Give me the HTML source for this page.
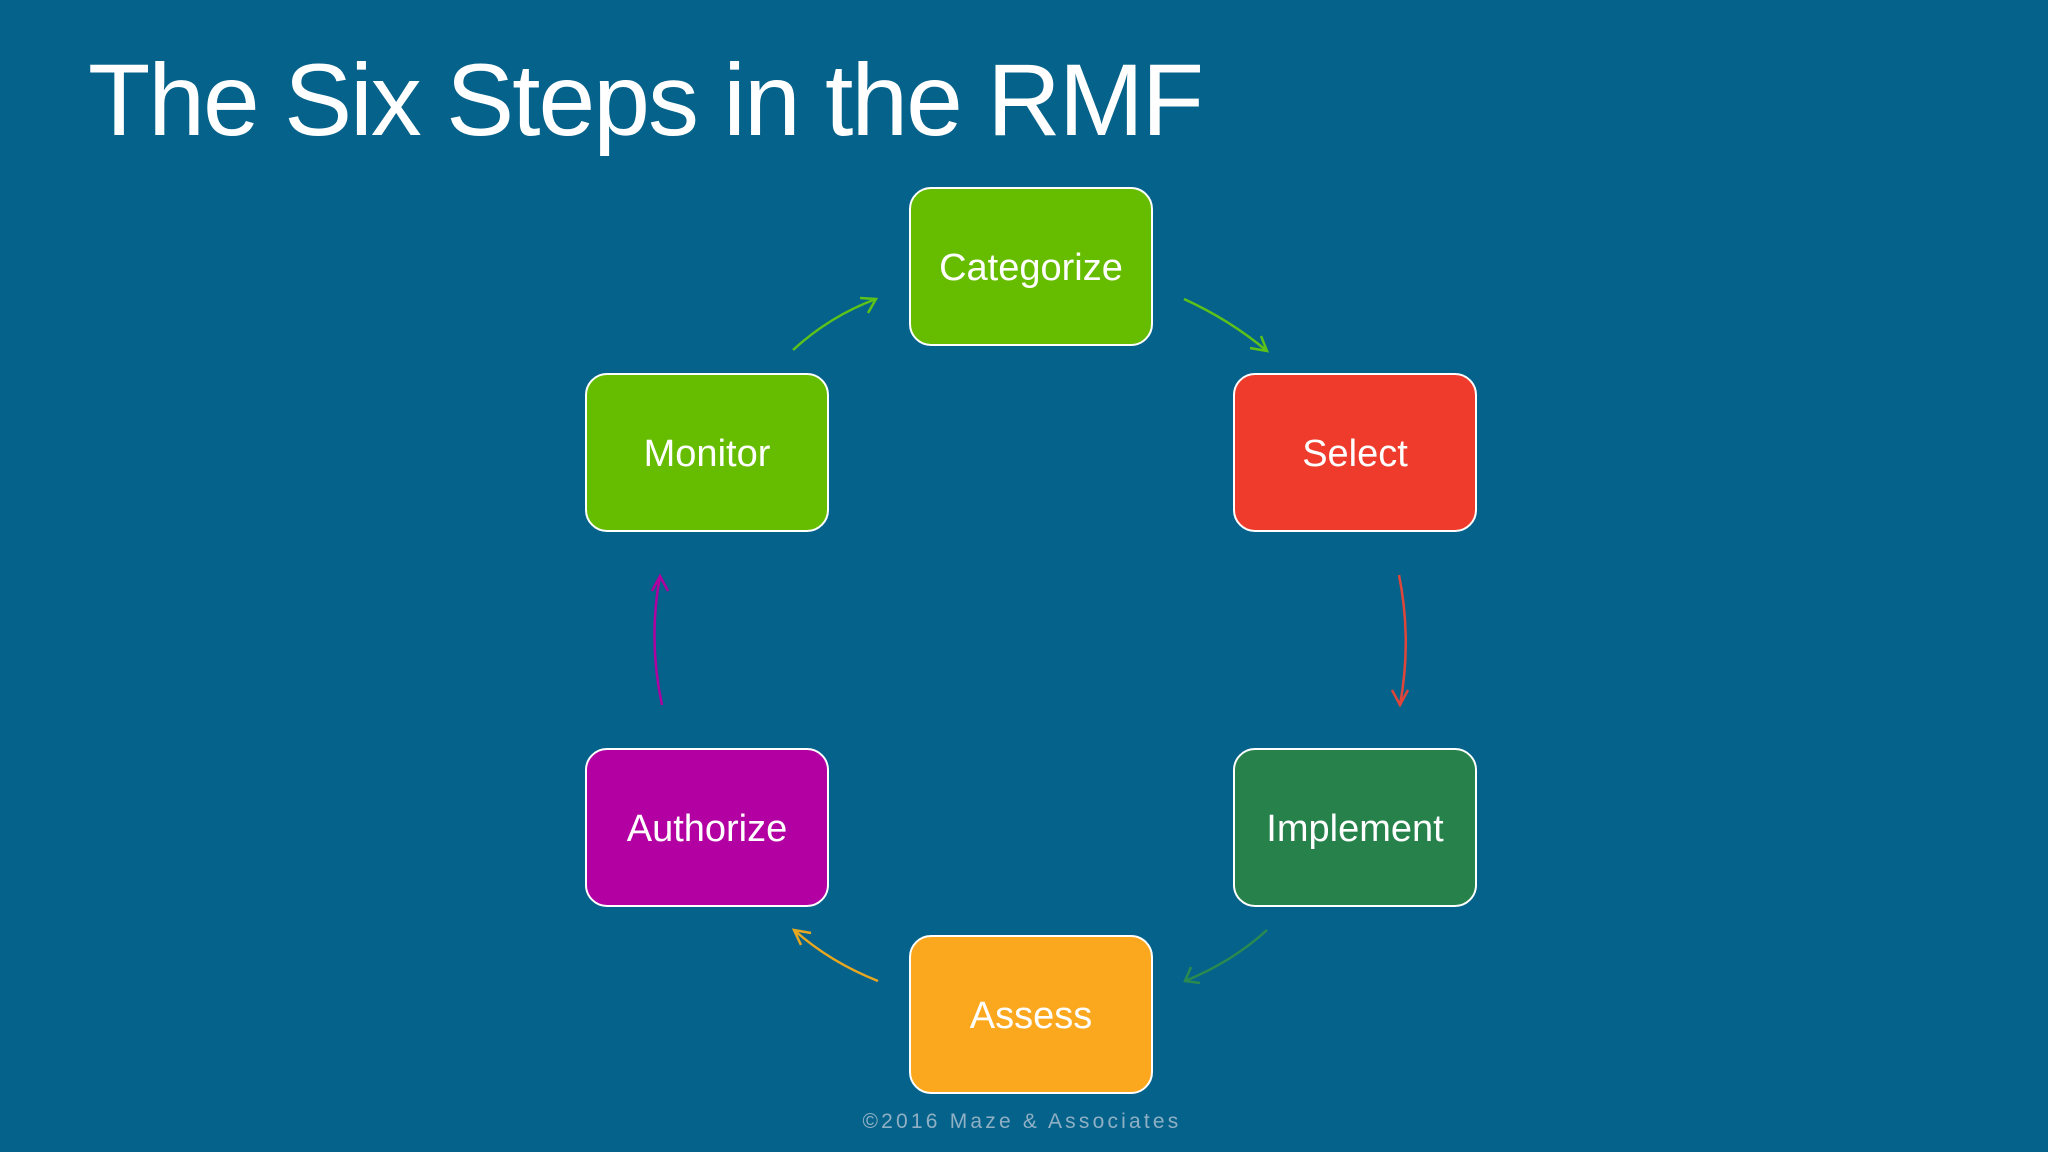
<!DOCTYPE html>
<html><head><style>
body{margin:0;width:2048px;height:1152px;background:#05628a;overflow:hidden;position:relative;font-family:"Liberation Sans",sans-serif;}
.t{position:absolute;left:88px;top:42px;font-size:102px;color:#fff;font-weight:normal;letter-spacing:-2px;}
.b{position:absolute;border:2px solid #fff;border-radius:22px;color:#fff;font-size:38px;display:flex;align-items:center;justify-content:center;box-sizing:border-box;padding-top:4px;}
.f{position:absolute;left:0;width:2044px;top:1110px;text-align:center;color:#8fb0c4;font-size:21px;letter-spacing:3.2px;}
</style></head><body>
<div class="t">The Six Steps in the RMF</div>
<div class="b" style="left:909px;top:187px;width:244px;height:159px;background:#66bd00">Categorize</div>
<div class="b" style="left:1233px;top:373px;width:244px;height:159px;background:#ee3b2b">Select</div>
<div class="b" style="left:1233px;top:748px;width:244px;height:159px;background:#26824a">Implement</div>
<div class="b" style="left:909px;top:935px;width:244px;height:159px;background:#fca81e">Assess</div>
<div class="b" style="left:585px;top:748px;width:244px;height:159px;background:#b200a2">Authorize</div>
<div class="b" style="left:585px;top:373px;width:244px;height:159px;background:#66bd00">Monitor</div>
<svg width="2048" height="1152" style="position:absolute;left:0;top:0" fill="none" stroke-width="2.5">
<path d="M1184 299 Q1230 320 1267 351 M1250 348 L1267 351 L1261 336" stroke="#5cc21a"/>
<path d="M1399 575 Q1412 640 1400 705 M1392 690 L1400 705 L1408 690" stroke="#e0453a"/>
<path d="M1267 930 Q1232 962 1185 981 M1191 967 L1185 981 L1200 983" stroke="#2a8a4f"/>
<path d="M878 981 Q830 962 794 930 M811 933 L794 930 L801 945" stroke="#e8a720"/>
<path d="M662 705 Q648 640 660 576 M652 591 L660 576 L668 591" stroke="#b000a0"/>
<path d="M793 350 Q830 316 876 299 M860 298 L876 299 L868 313" stroke="#5cc21a"/>
</svg>
<div class="f">©2016 Maze &amp; Associates</div>
</body></html>
